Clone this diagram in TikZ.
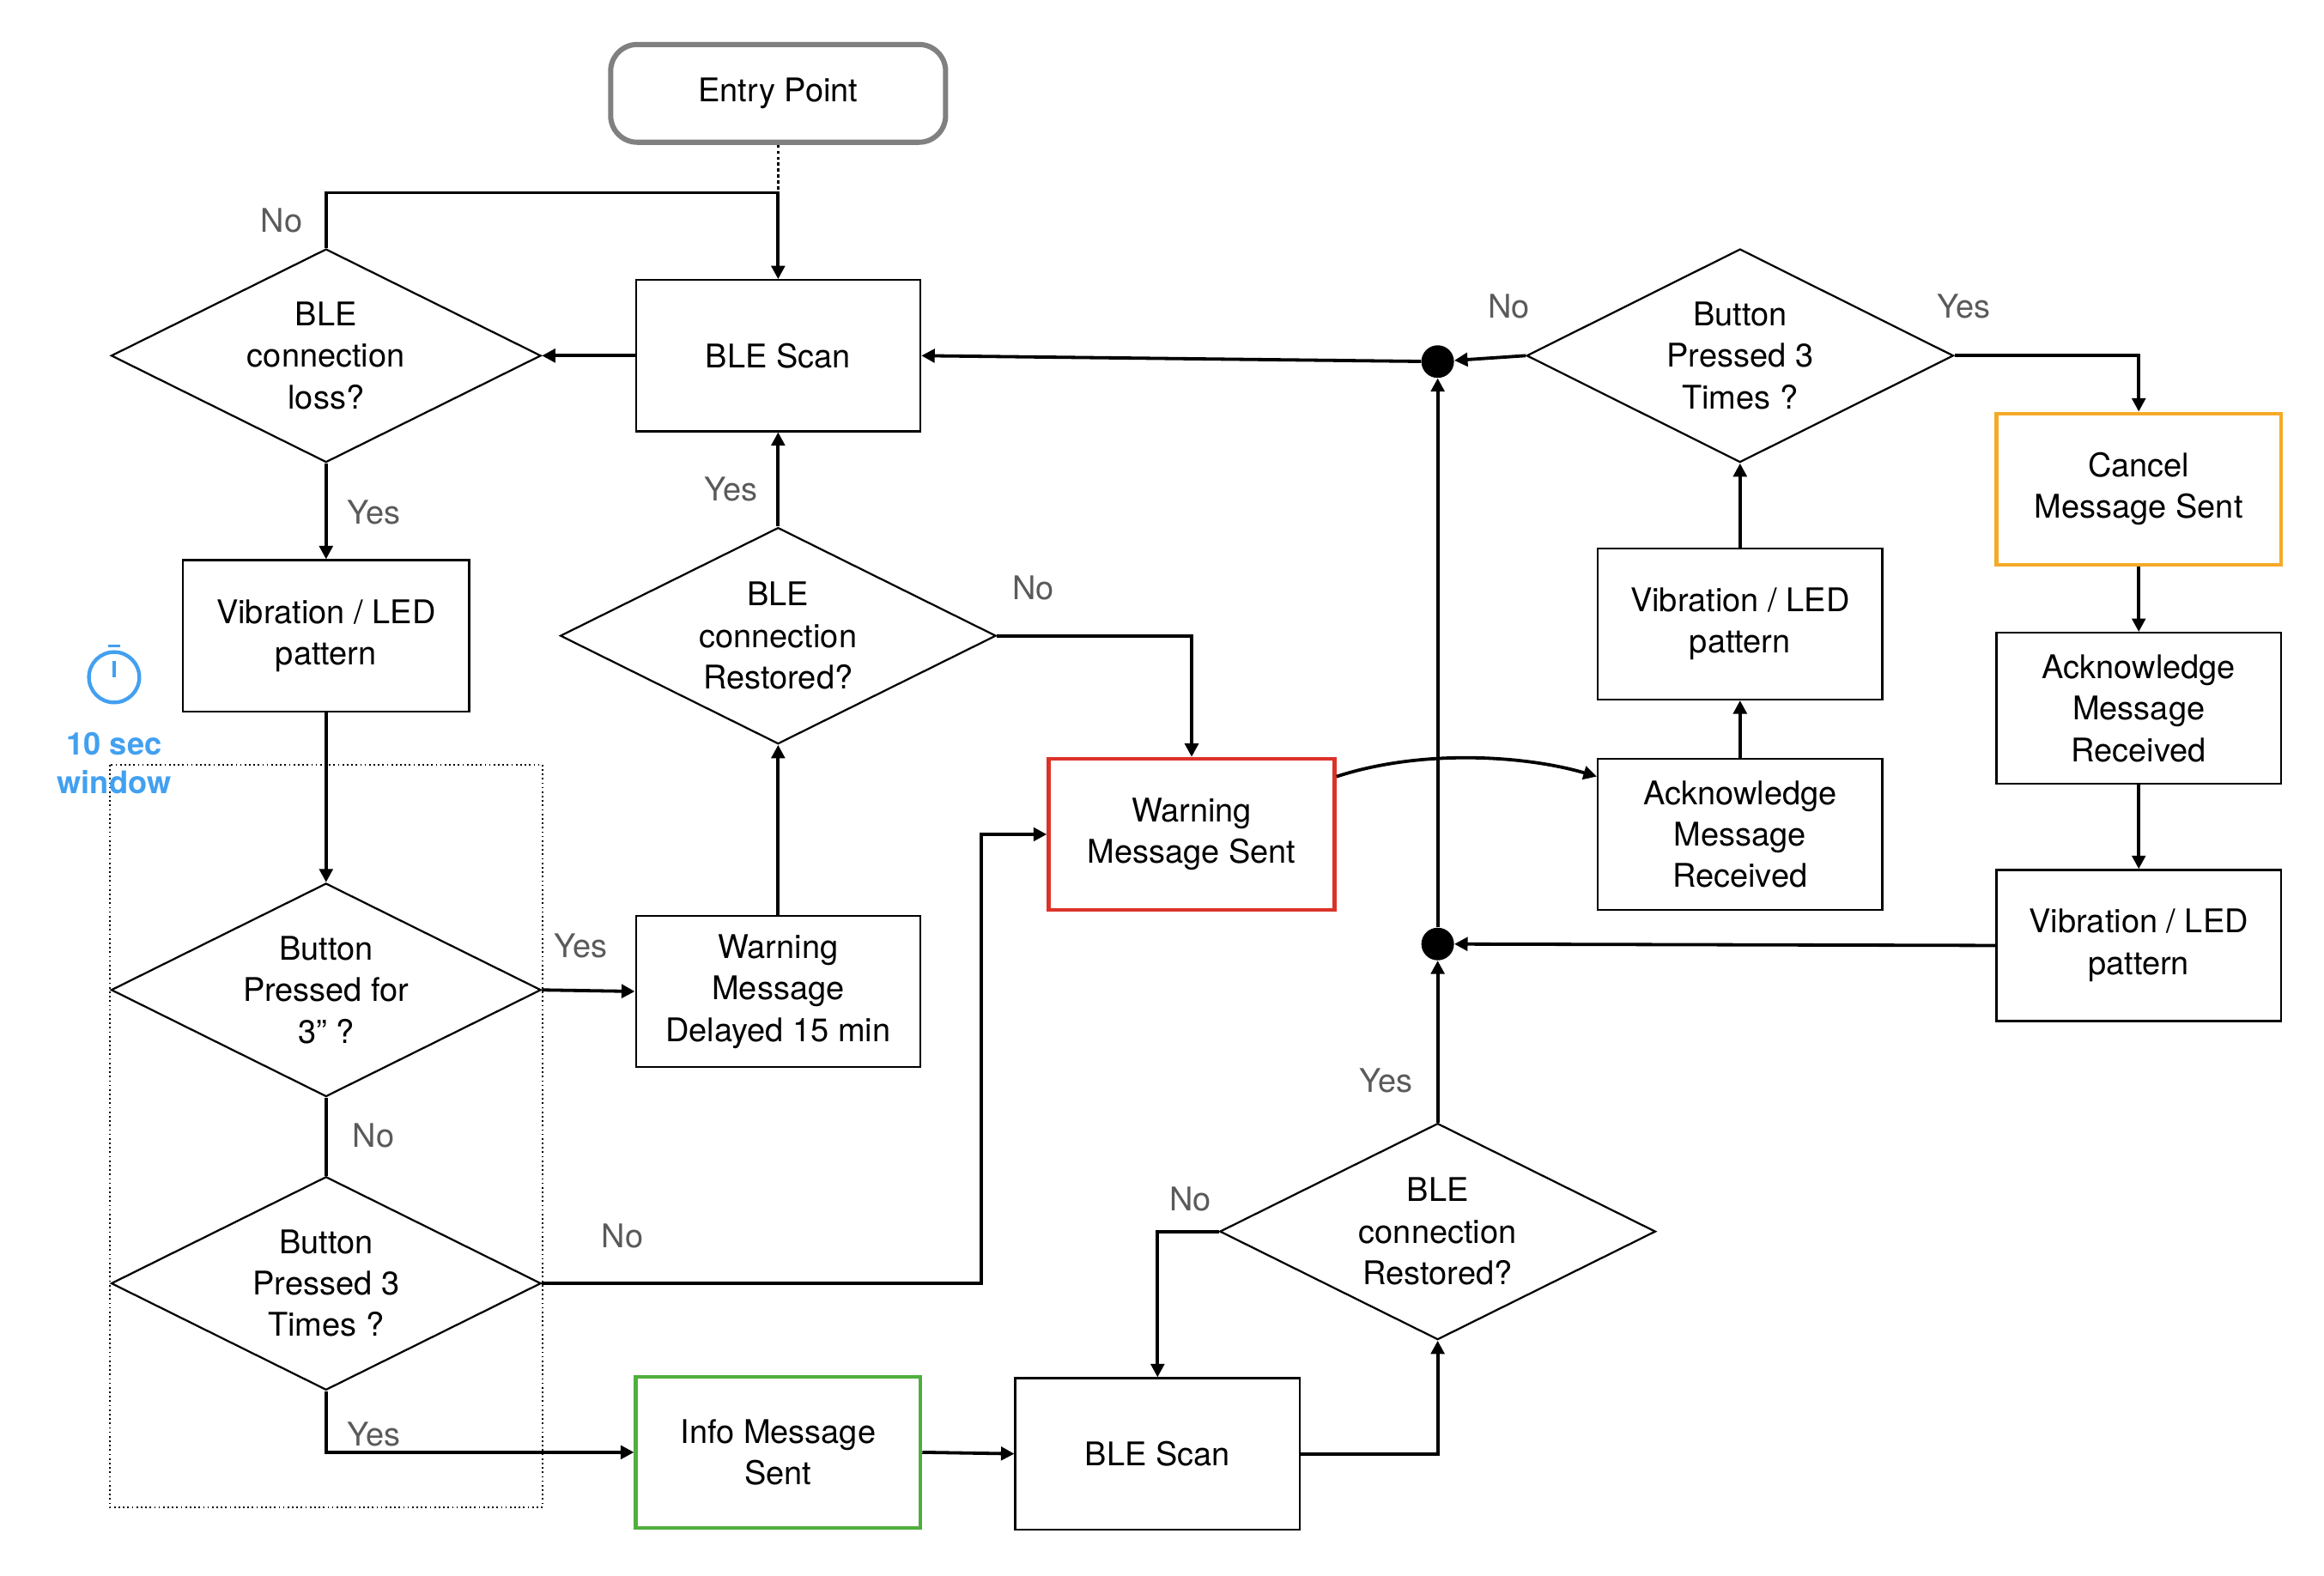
\documentclass[tikz,border=0pt]{standalone}
\usepackage{fontspec}
\setmainfont{TeX Gyre Heros}
\usetikzlibrary{shapes.geometric,arrows.meta}
\definecolor{lbl}{RGB}{90,90,90}
\definecolor{sw}{RGB}{66,160,240}
\begin{document}
\begin{tikzpicture}[x=1pt,y=-1pt,
  every node/.style={font=\fontsize{22}{28}\selectfont},
  box/.style={draw,line width=1.3pt,minimum width=192,minimum height=102,align=center,inner sep=2pt},
  dia/.style={draw,diamond,line width=1.3pt,minimum width=290,minimum height=144,aspect=2,inner sep=0pt,align=center},
  arr/.style={line width=2.2pt,-{Triangle[length=9pt,width=9pt]}},
  ln/.style={line width=2.2pt},
  lb/.style={text=lbl},
  dot/.style={circle,fill,inner sep=0pt,minimum size=22}]
\useasboundingbox (0,0) rectangle (1568,1063);
\node[draw=gray,line width=3.5pt,rounded corners=18pt,minimum width=226,minimum height=66] (entry) at (525,63) {Entry Point};
\node[box] (scan1) at (525,240) {BLE Scan};
\node[dia] (loss) at (220,240) {BLE\\connection\\loss?};
\node[box,minimum width=193] (vib1) at (220,429) {Vibration / LED\\pattern};
\node[dia] (bp3s) at (220,668) {Button\\Pressed for\\3'' ?};
\node[dia] (bp3t) at (220,866) {Button\\Pressed 3\\Times ?};
\node[dia,minimum width=294,minimum height=146] (rest1) at (525,429) {BLE\\connection\\Restored?};
\node[box] (delay) at (525,669) {Warning\\Message\\Delayed 15 min};
\node[box,draw={rgb,255:red,220;green,50;blue,40},line width=2.5pt,minimum width=193] (warn) at (804,563) {Warning\\Message Sent};
\node[box,draw={rgb,255:red,80;green,175;blue,60},line width=2.5pt] (info) at (525,980) {Info Message\\Sent};
\node[box] (scan2) at (781,981) {BLE Scan};
\node[dia,minimum width=294,minimum height=146] (rest2) at (970,831) {BLE\\connection\\Restored?};
\node[dot] (d1) at (970,244) {};
\node[dot] (d2) at (970,637) {};
\node[dia,minimum width=288] (bp3r) at (1174,240) {Button\\Pressed 3\\Times ?};
\node[box] (vib2) at (1174,421) {Vibration / LED\\pattern};
\node[box] (ack1) at (1174,563) {Acknowledge\\Message\\Received};
\node[box,draw={rgb,255:red,245;green,170;blue,40},line width=2.5pt] (cancel) at (1443,330) {Cancel\\Message Sent};
\node[box] (ack2) at (1443,478) {Acknowledge\\Message\\Received};
\node[box] (vib3) at (1443,638) {Vibration / LED\\pattern};
% dotted window
\draw[dotted,line width=1pt] (74,516) rectangle (366,1017);
\draw[sw,line width=2.5pt] (77,457) circle (17);
\draw[sw,line width=2.5pt] (77,457) -- (77,446);
\draw[sw,line width=2pt] (73,436) -- (81,436);
\node[text=sw,font=\fontsize{21}{26}\selectfont\bfseries,align=center] (tw) at (77,515) {10 sec\\window};
% connectors
\draw[dotted,line width=2pt] (entry.south) -- (525,130);
\draw[arr] (loss.north) |- (525,130) -- (scan1.north);
\node[lb] at (190,149) {No};
\draw[arr] (scan1.west) -- (loss.east);
\draw[arr] (loss.south) -- (vib1.north);
\node[lb] at (252,346) {Yes};
\draw[arr] (vib1.south) -- (bp3s.north);
\draw[arr] (bp3s.east) -- (delay.west);
\node[lb] at (392,638) {Yes};
\draw[ln] (bp3s.south) -- (bp3t.north);
\node[lb] at (252,766) {No};
\draw[arr] (bp3t.east) -- (662,866) |- (warn.west);
\node[lb] at (420,834) {No};
\draw[arr] (bp3t.south) |- (info.west);
\node[lb] at (252,968) {Yes};
\draw[arr] (info.east) -- (scan2.west);
\draw[arr] (scan2.east) -| (rest2.south);
\draw[arr] (rest2.west) -| (scan2.north);
\node[lb] at (803,809) {No};
\draw[arr] (rest2.north) -- (d2);
\node[lb] at (935,729) {Yes};
\draw[arr] (vib3.west) -- (d2);
\draw[arr] (d2) -- (d1);
\draw[arr] (d1) -- (scan1.east);
\draw[arr] (bp3r.west) -- (d1);
\node[lb] at (1018,207) {No};
\draw[arr] (bp3r.east) -| (cancel.north);
\node[lb] at (1325,207) {Yes};
\draw[arr] (cancel.south) -- (ack2.north);
\draw[arr] (ack2.south) -- (vib3.north);
\draw[arr] (delay.north) -- (rest1.south);
\draw[arr] (rest1.north) -- (scan1.south);
\node[lb] at (493,330) {Yes};
\draw[arr] (rest1.east) -| (warn.north);
\node[lb] at (697,397) {No};
\draw[arr] (warn.east |- 0,524) .. controls (960,505) and (1030,510) .. (ack1.west |- 0,524);
\draw[arr] (ack1.north) -- (vib2.south);
\draw[arr] (vib2.north) -- (bp3r.south);
\end{tikzpicture}
\end{document}
